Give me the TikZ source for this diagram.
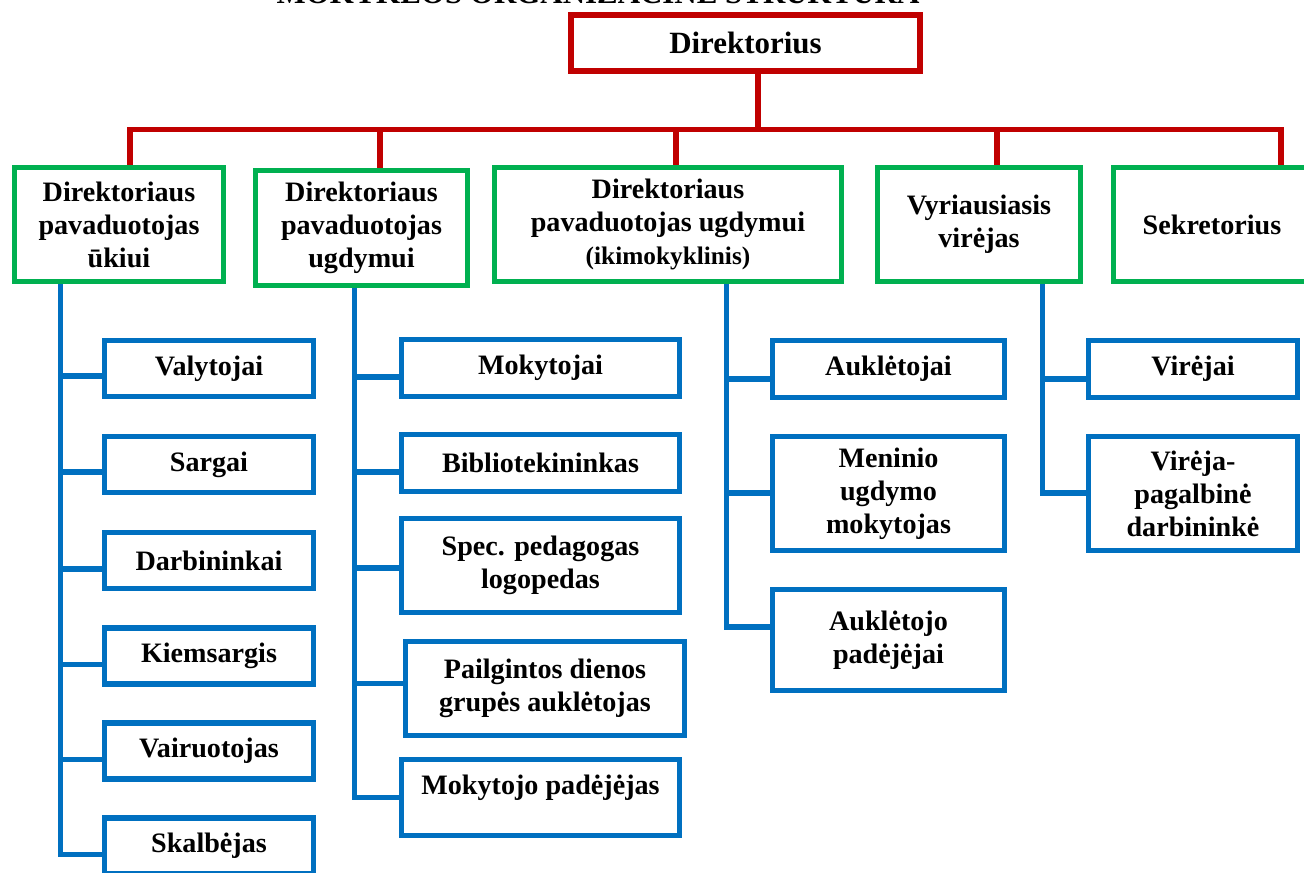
\documentclass[tikz,border=0pt]{standalone}
\usepackage{fontspec}
\setmainfont{Liberation Serif}
\usetikzlibrary{backgrounds}
\definecolor{orgred}{RGB}{192,0,0}
\definecolor{orggreen}{RGB}{0,176,80}
\definecolor{orgblue}{RGB}{0,112,192}
\tikzset{
  box/.style={draw, rectangle, align=center, inner sep=0pt, fill=white,
    font=\bfseries\fontsize{20}{23.5}\selectfont},
  redbox/.style={box, draw=orgred, line width=4.27pt},
  greenbox/.style={box, draw=orggreen, line width=3.56pt},
  bluebox/.style={box, draw=orgblue, line width=3.9pt},
  redline/.style={orgred, line width=3.9pt},
  blueline/.style={orgblue, line width=3.56pt},
}

\begin{document}
\begin{tikzpicture}[x=0.025cm, y=-0.025cm]
  \useasboundingbox (0,0) rectangle (1304,873);

  % title, cut off at the top edge
  \node[font=\bfseries\fontsize{22}{24}\selectfont, anchor=base, inner sep=0pt] (title) at (598,4) {MOKYKLOS ORGANIZACINĖ STRUKTŪRA};

  % top
  \node[redbox, minimum width=8.725cm, minimum height=1.4cm, font=\bfseries\fontsize{22}{24}\selectfont] (dir) at (745.5,43) {Direktorius};

  % second row
  \node[greenbox, minimum width=5.225cm, minimum height=2.85cm] (ukio) at (119,224.5) {Direktoriaus\\pavaduotojas\\ūkiui};
  \node[greenbox, minimum width=5.3cm, minimum height=2.875cm] (ugd) at (361.5,228) {Direktoriaus\\pavaduotojas\\ugdymui};
  \node[greenbox, minimum width=8.675cm, minimum height=2.85cm] (ikim) at (668,224.5) {Direktoriaus\\pavaduotojas ugdymui\\{\fontsize{18}{19}\selectfont (ikimokyklinis)}};
  \node[greenbox, minimum width=5.075cm, minimum height=2.85cm] (vyr) at (979,224.5) {Vyriausiasis\\virėjas};
  \node[greenbox, minimum width=4.925cm, minimum height=2.85cm] (sekr) at (1212,224.5) {Sekretorius};

  % ukio
  \node[bluebox, minimum width=5.225cm, minimum height=1.4cm] (valyt) at (209,368.5) {Valytojai};
  \node[bluebox, minimum width=5.225cm, minimum height=1.4cm] (sarg) at (209,464.5) {Sargai};
  \node[bluebox, minimum width=5.225cm, minimum height=1.4cm] (darb) at (209,560.5) {Darbininkai};
  \node[bluebox, minimum width=5.225cm, minimum height=1.4cm] (kiem) at (209,656) {Kiemsargis};
  \node[bluebox, minimum width=5.225cm, minimum height=1.4cm] (vair) at (209,751) {Vairuotojas};
  \node[bluebox, minimum width=5.225cm, minimum height=1.4cm] (skalb) at (209,846) {Skalbėjas};

  % ugdymo
  \node[bluebox, minimum width=6.95cm, minimum height=1.425cm] (mok) at (540.5,368) {Mokytojai};
  \node[bluebox, minimum width=6.95cm, minimum height=1.425cm] (bibl) at (540.5,463) {Bibliotekininkas};
  \node[bluebox, minimum width=6.95cm, minimum height=2.35cm] (spec) at (540.5,565.5) {Spec. pedagogas\\logopedas};
  \node[bluebox, minimum width=6.975cm, minimum height=2.35cm] (pailg) at (545,688.5) {Pailgintos dienos\\grupės auklėtojas};
  \node[bluebox, minimum width=6.95cm, minimum height=1.9cm, text depth=0.65cm] (mokpad) at (540.5,797.5) {Mokytojo padėjėjas};

  % ikimokyklinis
  \node[bluebox, minimum width=5.8cm, minimum height=1.425cm] (aukl) at (888.5,369) {Auklėtojai};
  \node[bluebox, minimum width=5.8cm, minimum height=2.85cm] (men) at (888.5,493.5) {Meninio\\ugdymo\\mokytojas};
  \node[bluebox, minimum width=5.8cm, minimum height=2.525cm] (auklpad) at (888.5,640) {Auklėtojo\\padėjėjai};

  % virtuve
  \node[bluebox, minimum width=5.225cm, minimum height=1.425cm] (vir) at (1193,369) {Virėjai};
  \node[bluebox, minimum width=5.225cm, minimum height=2.85cm] (virpag) at (1193,493.5) {Virėja-\\pagalbinė\\darbininkė};

  \begin{scope}[on background layer]
    % red bus
    \coordinate (bus) at (758,129.5);
    \coordinate (s1) at (130,129.5);
    \coordinate (s2) at (380,129.5);
    \coordinate (s3) at (676,129.5);
    \coordinate (s4) at (997,129.5);
    \coordinate (s5) at (1281,129.5);
    \draw[redline] (dir.south -| bus) -- (bus);
    \draw[redline, line cap=rect] (s1) -- (s5);
    \foreach \s/\n in {s1/ukio, s2/ugd, s3/ikim, s4/vyr, s5/sekr}
      \draw[redline] (\s) -- (\s |- \n.north);

    % blue spines
    \coordinate (sp1) at (60.5,0);
    \coordinate (sp2) at (354,0);
    \coordinate (sp3) at (726,0);
    \coordinate (sp4) at (1042,0);
    \draw[blueline] (ukio.south -| sp1) |- (skalb.west |- 0,854);
    \foreach \n/\y in {valyt/376, sarg/472, darb/569, kiem/664, vair/759}
      \draw[blueline] (sp1 |- 0,\y) -- (\n.west |- 0,\y);
    \draw[blueline] (ugd.south -| sp2) |- (mokpad.west |- 0,797);
    \foreach \n/\y in {mok/377, bibl/472, spec/568, pailg/683}
      \draw[blueline] (sp2 |- 0,\y) -- (\n.west |- 0,\y);
    \draw[blueline] (ikim.south -| sp3) |- (auklpad.west |- 0,627);
    \foreach \n/\y in {aukl/379, men/493}
      \draw[blueline] (sp3 |- 0,\y) -- (\n.west |- 0,\y);
    \draw[blueline] (vyr.south -| sp4) |- (virpag.west |- 0,493);
    \draw[blueline] (sp4 |- 0,379) -- (vir.west |- 0,379);
  \end{scope}
\end{tikzpicture}
\end{document}
